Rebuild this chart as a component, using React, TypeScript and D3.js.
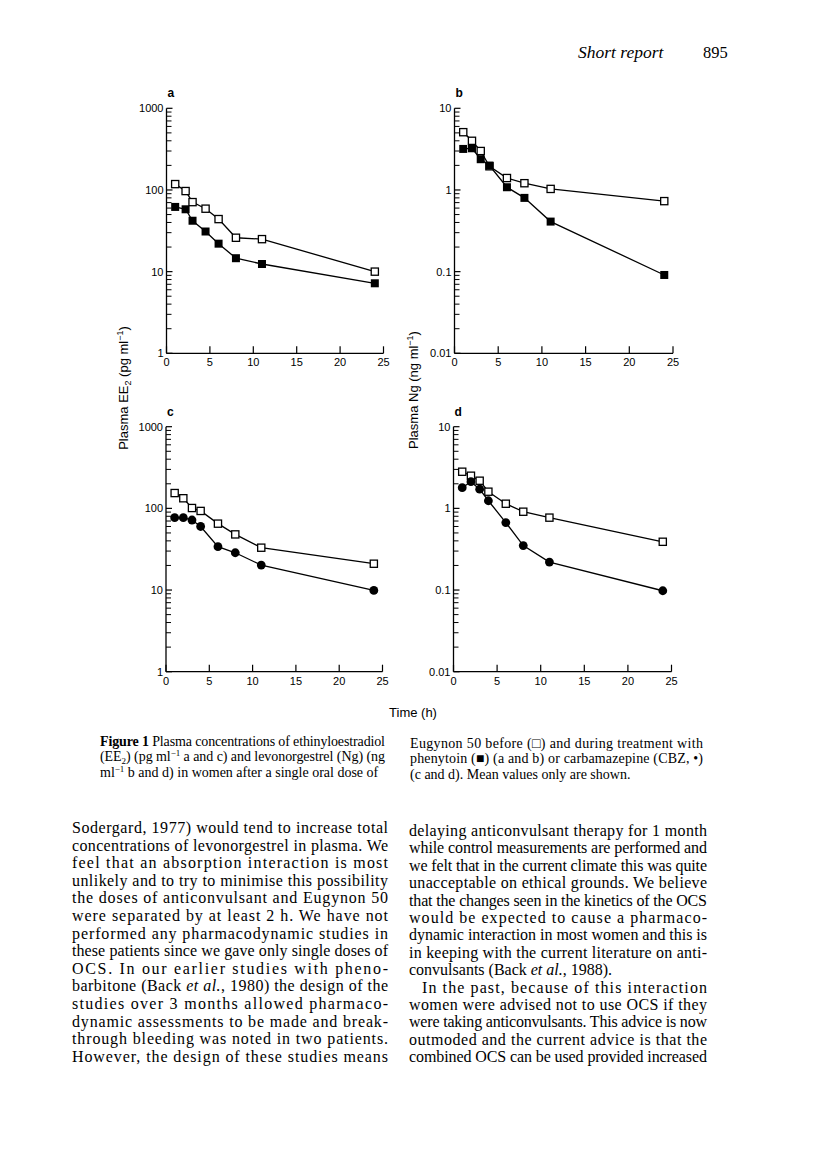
import * as d3 from 'd3';
import { useMemo } from 'react';

// sampling times (h)
const timesA = [1, 2.2, 3, 4.5, 6, 8, 11, 24];
const timesB = [1, 2, 3, 4, 6, 8, 11, 24];
const timesC = [1, 2, 3, 4, 6, 8, 11, 24];
const timesD = [1, 2, 3, 4, 6, 8, 11, 24];

// a: EE2 (pg/ml), before / during phenytoin
const ee2BeforePhenytoin = [118, 97, 71, 59, 44, 26, 25, 10];
const ee2DuringPhenytoin = [62, 58, 42, 31, 22, 14.6, 12.4, 7.2];
// b: Ng (ng/ml), before / during phenytoin
const ngBeforePhenytoin = [5.1, 4.0, 3.0, 1.95, 1.4, 1.21, 1.03, 0.73];
const ngDuringPhenytoin = [3.18, 3.24, 2.38, 1.99, 1.08, 0.8, 0.41, 0.091];
// c: EE2 (pg/ml), before / during carbamazepine
const ee2BeforeCbz = [154, 133, 101, 93, 65, 48, 33, 21];
const ee2DuringCbz = [77, 77, 72, 60, 34, 28.6, 20.2, 9.9];
// d: Ng (ng/ml), before / during carbamazepine
const ngBeforeCbz = [2.81, 2.51, 2.18, 1.6, 1.14, 0.91, 0.77, 0.39];
const ngDuringCbz = [1.79, 2.12, 1.72, 1.24, 0.67, 0.35, 0.22, 0.098];

const xTicks = [0, 5, 10, 15, 20, 25];
const ee2Ticks = ['1000', '100', '10', '1'];
const ngTicks = ['10', '1', '0.1', '0.01'];

const bodyLeft = [
  'Sodergard, 1977) would tend to increase total',
  'concentrations of levonorgestrel in plasma. We',
  'feel that an absorption interaction is most',
  'unlikely and to try to minimise this possibility',
  'the doses of anticonvulsant and Eugynon 50',
  'were separated by at least 2 h. We have not',
  'performed any pharmacodynamic studies in',
  'these patients since we gave only single doses of',
  'OCS. In our earlier studies with pheno-',
  'barbitone (Back |et al.|, 1980) the design of the',
  'studies over 3 months allowed pharmaco-',
  'dynamic assessments to be made and break-',
  'through bleeding was noted in two patients.',
  'However, the design of these studies means',
];
const bodyRight = [
  'delaying anticonvulsant therapy for 1 month',
  'while control measurements are performed and',
  'we felt that in the current climate this was quite',
  'unacceptable on ethical grounds. We believe',
  'that the changes seen in the kinetics of the OCS',
  'would be expected to cause a pharmaco-',
  'dynamic interaction in most women and this is',
  'in keeping with the current literature on anti-',
  'convulsants (Back |et al.|, 1988).',
  'In the past, because of this interaction',
  'women were advised not to use OCS if they',
  'were taking anticonvulsants. This advice is now',
  'outmoded and the current advice is that the',
  'combined OCS can be used provided increased',
];

const SANS = 'Liberation Sans, Arial, Helvetica, sans-serif';
const SERIF = 'Liberation Serif, Times New Roman, serif';

type Series = { values: number[]; marker: 'open' | 'square' | 'circle' };
type PanelProps = {
  letter: string;
  left: number;
  right: number;
  top: number;
  bottom: number;
  domain: [number, number];
  tickLabels: string[];
  times: number[];
  series: Series[];
};

const Panel = ({ letter, left, right, top, bottom, domain, tickLabels, times, series }: PanelProps) => {
  const xScale = useMemo(() => d3.scaleLinear().domain([0, 25]).range([left, right]), [left, right]);
  const yScale = useMemo(() => d3.scaleLog().domain(domain).range([bottom, top]), [domain, top, bottom]);

  const decades = d3.range(Math.log10(domain[0]), Math.log10(domain[1]) + 0.5).map((e) => Math.pow(10, e));
  const minor: number[] = [];
  decades.slice(0, -1).forEach((d) => {
    for (let k = 2; k <= 9; k++) minor.push(d * k);
  });

  const line = d3
    .line<number>()
    .x((_, i) => xScale(times[i]))
    .y((v) => yScale(v));

  return (
    <g>
      <text x={left + 1} y={top - 11} fontFamily={SANS} fontWeight="bold" fontSize={12}>
        {letter}
      </text>
      {/* axes */}
      <line x1={left} x2={left} y1={top} y2={bottom} stroke="#000" strokeWidth={1.3} />
      <line x1={left} x2={right} y1={bottom} y2={bottom} stroke="#000" strokeWidth={1.3} />
      {xTicks.map((t) => (
        <g key={t}>
          <line x1={xScale(t)} x2={xScale(t)} y1={bottom} y2={bottom - 7} stroke="#000" strokeWidth={1.2} />
          <text x={xScale(t)} y={bottom + 13} textAnchor="middle" fontFamily={SANS} fontSize={11}>
            {t}
          </text>
        </g>
      ))}
      {decades.map((d) => (
        <line key={d} x1={left} x2={left + 6} y1={yScale(d)} y2={yScale(d)} stroke="#000" strokeWidth={1.2} />
      ))}
      {minor.map((d) => (
        <line key={d} x1={left} x2={left + 5} y1={yScale(d)} y2={yScale(d)} stroke="#000" strokeWidth={1} />
      ))}
      {decades
        .slice()
        .reverse()
        .map((d, i) => (
          <text key={d} x={left - 3} y={yScale(d) + 4} textAnchor="end" fontFamily={SANS} fontSize={11}>
            {tickLabels[i]}
          </text>
        ))}
      {/* lines */}
      {series.map((s, i) => (
        <path key={i} d={line(s.values) ?? ''} fill="none" stroke="#000" strokeWidth={1.3} />
      ))}
      {/* markers */}
      {series.map((s, i) =>
        s.values.map((v, j) => {
          const cx = xScale(times[j]);
          const cy = yScale(v);
          if (s.marker === 'circle') return <circle key={`${i}-${j}`} cx={cx} cy={cy} r={4.4} fill="#000" />;
          if (s.marker === 'square')
            return <rect key={`${i}-${j}`} x={cx - 4} y={cy - 4} width={8} height={8} fill="#000" />;
          return (
            <rect
              key={`${i}-${j}`}
              x={cx - 3.6}
              y={cy - 3.6}
              width={7.2}
              height={7.2}
              fill="#fff"
              stroke="#000"
              strokeWidth={1.3}
            />
          );
        })
      )}
    </g>
  );
};

// a text line; words between | are italic
const renderLine = (s: string) =>
  s.split('|').map((part, i) => (
    <tspan key={i} fontStyle={i % 2 === 1 ? 'italic' : 'normal'}>
      {part}
    </tspan>
  ));

const BodyColumn = ({ lines, x, width, y0, step, ragged, indent }: any) => (
  <g fontFamily={SERIF} fontSize={16}>
    {lines.map((l: string, i: number) => {
      const ind = indent.includes(i) ? 13 : 0;
      const justify = !ragged.includes(i);
      return (
        <text
          key={i}
          x={x + ind}
          y={y0 + i * step}
          textLength={justify ? width - ind : undefined}
          lengthAdjust="spacing"
        >
          {renderLine(l)}
        </text>
      );
    })}
  </g>
);

export default function App() {
  const topY: [number, number] = [108.3, 353.3];
  const botY: [number, number] = [426.7, 671.7];
  return (
    <svg
      width={816}
      height={1174}
      style={{ position: 'absolute', left: 0, top: 0, background: '#fff' }}
    >
      <rect width={816} height={1174} fill="#fff" />
      {/* running head */}
      <text x={578} y={58} fontFamily={SERIF} fontStyle="italic" fontSize={17.5}>
        Short report
      </text>
      <text x={703} y={58} fontFamily={SERIF} fontSize={16.5}>
        895
      </text>

      <Panel
        letter="a"
        left={166.5}
        right={383.5}
        top={topY[0]}
        bottom={topY[1]}
        domain={[1, 1000]}
        tickLabels={ee2Ticks}
        times={timesA}
        series={[
          { values: ee2BeforePhenytoin, marker: 'open' },
          { values: ee2DuringPhenytoin, marker: 'square' },
        ]}
      />
      <Panel
        letter="b"
        left={454.5}
        right={673}
        top={topY[0]}
        bottom={topY[1]}
        domain={[0.01, 10]}
        tickLabels={ngTicks}
        times={timesB}
        series={[
          { values: ngBeforePhenytoin, marker: 'open' },
          { values: ngDuringPhenytoin, marker: 'square' },
        ]}
      />
      <Panel
        letter="c"
        left={166}
        right={382.5}
        top={botY[0]}
        bottom={botY[1]}
        domain={[1, 1000]}
        tickLabels={ee2Ticks}
        times={timesC}
        series={[
          { values: ee2BeforeCbz, marker: 'open' },
          { values: ee2DuringCbz, marker: 'circle' },
        ]}
      />
      <Panel
        letter="d"
        left={453.5}
        right={671.5}
        top={botY[0]}
        bottom={botY[1]}
        domain={[0.01, 10]}
        tickLabels={ngTicks}
        times={timesD}
        series={[
          { values: ngBeforeCbz, marker: 'open' },
          { values: ngDuringCbz, marker: 'circle' },
        ]}
      />

      {/* axis titles */}
      <text
        transform="translate(128,388) rotate(-90)"
        textAnchor="middle"
        fontFamily={SANS}
        fontSize={13}
      >
        Plasma EE<tspan dy={3} fontSize={9}>2</tspan>
        <tspan dy={-3}> (pg ml</tspan>
        <tspan dy={-5} fontSize={9}>−1</tspan>
        <tspan dy={5}>)</tspan>
      </text>
      <text
        transform="translate(418,390) rotate(-90)"
        textAnchor="middle"
        fontFamily={SANS}
        fontSize={13}
      >
        Plasma Ng (ng ml<tspan dy={-5} fontSize={9}>−1</tspan>
        <tspan dy={5}>)</tspan>
      </text>
      <text x={413} y={717} textAnchor="middle" fontFamily={SANS} fontSize={13}>
        Time (h)
      </text>

      {/* figure caption */}
      <g fontFamily={SERIF} fontSize={14}>
        <text x={100} y={746} textLength={285} lengthAdjust="spacing">
          <tspan fontWeight="bold">Figure 1</tspan>
          <tspan>{'   Plasma concentrations of ethinyloestradiol'}</tspan>
        </text>
        <text x={100} y={761} textLength={285} lengthAdjust="spacing">
          (EE<tspan dy={3} fontSize={9}>2</tspan>
          <tspan dy={-3}>) (pg ml</tspan>
          <tspan dy={-5} fontSize={9}>−1</tspan>
          <tspan dy={5}> a and c) and levonorgestrel (Ng) (ng</tspan>
        </text>
        <text x={100} y={777}>
          ml<tspan dy={-5} fontSize={9}>−1</tspan>
          <tspan dy={5}> b and d) in women after a single oral dose of</tspan>
        </text>
        <text x={410} y={748} textLength={293} lengthAdjust="spacing">
          Eugynon 50 before (□) and during treatment with
        </text>
        <text x={410} y={763} textLength={293} lengthAdjust="spacing">
          phenytoin (■) (a and b) or carbamazepine (CBZ, •)
        </text>
        <text x={410} y={779}>
          (c and d). Mean values only are shown.
        </text>
      </g>

      <BodyColumn lines={bodyLeft} x={72} width={316} y0={833} step={17.6} ragged={[]} indent={[]} />
      <BodyColumn lines={bodyRight} x={409} width={298} y0={836} step={17.4} ragged={[8]} indent={[9]} />
    </svg>
  );
}
